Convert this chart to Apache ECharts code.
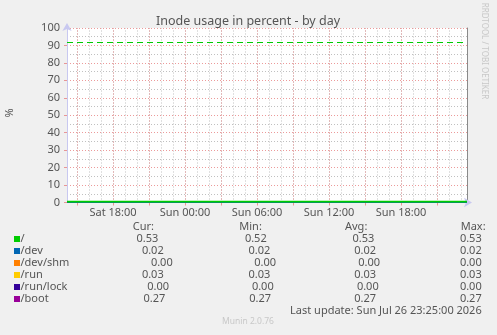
<!DOCTYPE html>
<html>
<head>
<meta charset="utf-8">
<script src="https://cdn.jsdelivr.net/npm/echarts@6/dist/echarts.min.js"></script>
<style>
html,body{margin:0;padding:0;background:#f0f0f0;}
#c{width:497px;height:335px;}
</style>
</head>
<body>
<div id="c"></div>
<script>
// ---- data ----
const seriesNames = ['/', '/dev', '/dev/shm', '/run', '/run/lock', '/boot'];
const curValues = [0.53, 0.02, 0.00, 0.03, 0.00, 0.27];
const minValues = [0.52, 0.02, 0.00, 0.03, 0.00, 0.27];
const avgValues = [0.53, 0.02, 0.00, 0.03, 0.00, 0.27];
const maxValues = [0.53, 0.02, 0.00, 0.03, 0.00, 0.27];
const timeRange = [14.1667, 47.5]; // hours since Sat 00:00
const xLabelHours = [18, 24, 30, 36, 42];
const xLabels = ['Sat 18:00', 'Sun 00:00', 'Sun 06:00', 'Sun 12:00', 'Sun 18:00'];
const majorGridHours = [15, 18, 21, 24, 27, 30, 33, 36, 39, 42, 45];
const minorGridHours = [15, 16, 17, 18, 19, 20, 21, 22, 23, 24, 25, 26, 27, 28, 29, 30, 31, 32, 33, 34, 35, 36, 37, 38, 39, 40, 41, 42, 43, 44, 45, 46, 47];
const warningLevel = 92;
const yTicks = [0, 100, 10];
const titleText = 'Inode usage in percent - by day';
const lastUpdate = 'Last update: Sun Jul 26 23:25:00 2026';
const footer = 'Munin 2.0.76';
const sideText = 'RRDTOOL / TOBI OETIKER';
const headers = ['Cur:', 'Min:', 'Avg:', 'Max:'];

// ---- styles / layout ----
const colors = ['#00cc00', '#0066b3', '#ff8000', '#ffcc00', '#330099', '#990099'];
const FONT = 'Noto Sans';
const TXT = '#555';
const MAJ = 'rgba(230,120,120,0.75)';
const MIN = 'rgba(150,150,150,0.6)';
const rowY = [239, 251, 263, 275, 287, 299];
const headerX = [132.7, 239.3, 345, 460.7];
const colRight = [
  [158.3, 163.7, 172.7, 163.7, 169, 165.3],
  [266.7, 270.3, 276, 270.3, 273.7, 271],
  [374.3, 376, 380, 376, 378.7, 376],
  [481.7, 481.7, 481.7, 481.7, 481.7, 481.7]
];

const chart = echarts.init(document.getElementById('c'), null, {renderer: 'canvas'});

const gridSeries = (hours, color, z) => ({
  type: 'line', silent: true, symbol: 'none', z: z,
  lineStyle: {opacity: 0}, data: [],
  markLine: {
    silent: true, symbol: 'none', label: {show: false}, animation: false,
    lineStyle: {color: color, type: [1, 2], width: 1},
    data: hours.map(h => ({xAxis: h}))
  }
});

const dataSeries = seriesNames.map((n, i) => ({
  name: n,
  type: 'line',
  symbol: 'none',
  silent: true,
  clip: false,
  z: i === 0 ? 12 : 10 - i,
  lineStyle: {color: colors[i], width: i === 0 ? 1.8 : 1},
  data: [[timeRange[0], curValues[i]], [timeRange[1], curValues[i]]],
  markLine: i === 0 ? {
    silent: true, symbol: 'none', label: {show: false},
    lineStyle: {color: '#00cc00', type: [6, 4], width: 1.2},
    data: [{yAxis: warningLevel}]
  } : undefined
}));

const fmt = v => v.toFixed(2);
const cols = [curValues, minValues, avgValues, maxValues];
const graphic = [];
graphic.push({type: 'text', x: 248, y: 21, style: {text: titleText, fill: '#555', font: '12.5px "' + FONT + '"', align: 'center', verticalAlign: 'middle'}});
graphic.push({type: 'text', x: 484, y: 51, rotation: -Math.PI / 2, style: {text: sideText, fill: '#c8c8c8', font: '8px "' + FONT + '"', align: 'center', verticalAlign: 'middle'}});
graphic.push({type: 'text', x: 10, y: 113, rotation: Math.PI / 2, style: {text: '%', fill: TXT, font: '11px "' + FONT + '"', align: 'center', verticalAlign: 'middle'}});
headers.forEach((h, j) => graphic.push({type: 'text', x: headerX[j], y: 227, style: {text: h, fill: TXT, font: '11px "' + FONT + '"', align: 'left', verticalAlign: 'middle'}}));
seriesNames.forEach((n, i) => {
  graphic.push({type: 'rect', shape: {x: 14, y: rowY[i] - 3, width: 6, height: 6}, style: {fill: colors[i]}});
  graphic.push({type: 'text', x: 20.5, y: rowY[i], style: {text: n, fill: TXT, font: '11px "' + FONT + '"', align: 'left', verticalAlign: 'middle'}});
  cols.forEach((c, j) => graphic.push({type: 'text', x: colRight[j][i], y: rowY[i], style: {text: fmt(c[i]), fill: TXT, font: '11px "' + FONT + '"', align: 'right', verticalAlign: 'middle'}}));
});
graphic.push({type: 'text', x: 481.7, y: 311, style: {text: lastUpdate, fill: TXT, font: '11px "' + FONT + '"', align: 'right', verticalAlign: 'middle'}});
graphic.push({type: 'text', x: 248, y: 322, style: {text: footer, fill: '#c8c8c8', font: '8.5px "' + FONT + '"', align: 'center', verticalAlign: 'middle'}});

const option = {
  backgroundColor: '#f0f0f0',
  animation: false,
  grid: {left: 67, right: 30, top: 28, bottom: 132.5, containLabel: false, show: true, backgroundColor: '#ffffff', borderWidth: 0},
  xAxis: {
    type: 'value', position: 'bottom', min: timeRange[0], max: timeRange[1],
    axisLine: {show: true, onZero: false, symbol: ['none', 'arrow'], symbolSize: [7, 8], symbolOffset: [0, 5], lineStyle: {color: '#c8c8f0', width: 1}},
    axisTick: {show: true, length: 3, customValues: majorGridHours, lineStyle: {color: MAJ}},
    axisLabel: {show: true, customValues: xLabelHours, margin: 5, color: TXT, fontFamily: FONT, fontSize: 11,
      formatter: v => { const k = xLabelHours.indexOf(Math.round(v)); return k >= 0 ? xLabels[k] : ''; }},
    splitLine: {show: false}
  },
  yAxis: [
    {
      type: 'value', min: yTicks[0], max: yTicks[1], interval: yTicks[2],
      axisLine: {show: true, symbol: ['none', 'arrow'], symbolSize: [7, 8], symbolOffset: [0, 5], lineStyle: {color: '#c8c8f0', width: 1}},
      axisTick: {show: true, length: 3, lineStyle: {color: MAJ}},
      axisLabel: {color: TXT, fontFamily: FONT, fontSize: 11, margin: 7},
      splitLine: {show: true, lineStyle: {color: MAJ, type: [1, 2], width: 1}},
      minorTick: {show: false, splitNumber: 2},
      minorSplitLine: {show: true, lineStyle: {color: MIN, type: [1, 2], width: 1}}
    },
    {
      type: 'value', position: 'right', min: yTicks[0], max: yTicks[1],
      axisLine: {show: true, lineStyle: {color: '#8a8a8a', width: 1}},
      axisTick: {show: false}, axisLabel: {show: false}, splitLine: {show: false}
    }
  ],
  series: [gridSeries(minorGridHours, MIN, 1), gridSeries(majorGridHours, MAJ, 1.5)].concat(dataSeries),
  graphic: graphic
};
chart.setOption(option);
</script>
</body>
</html>
